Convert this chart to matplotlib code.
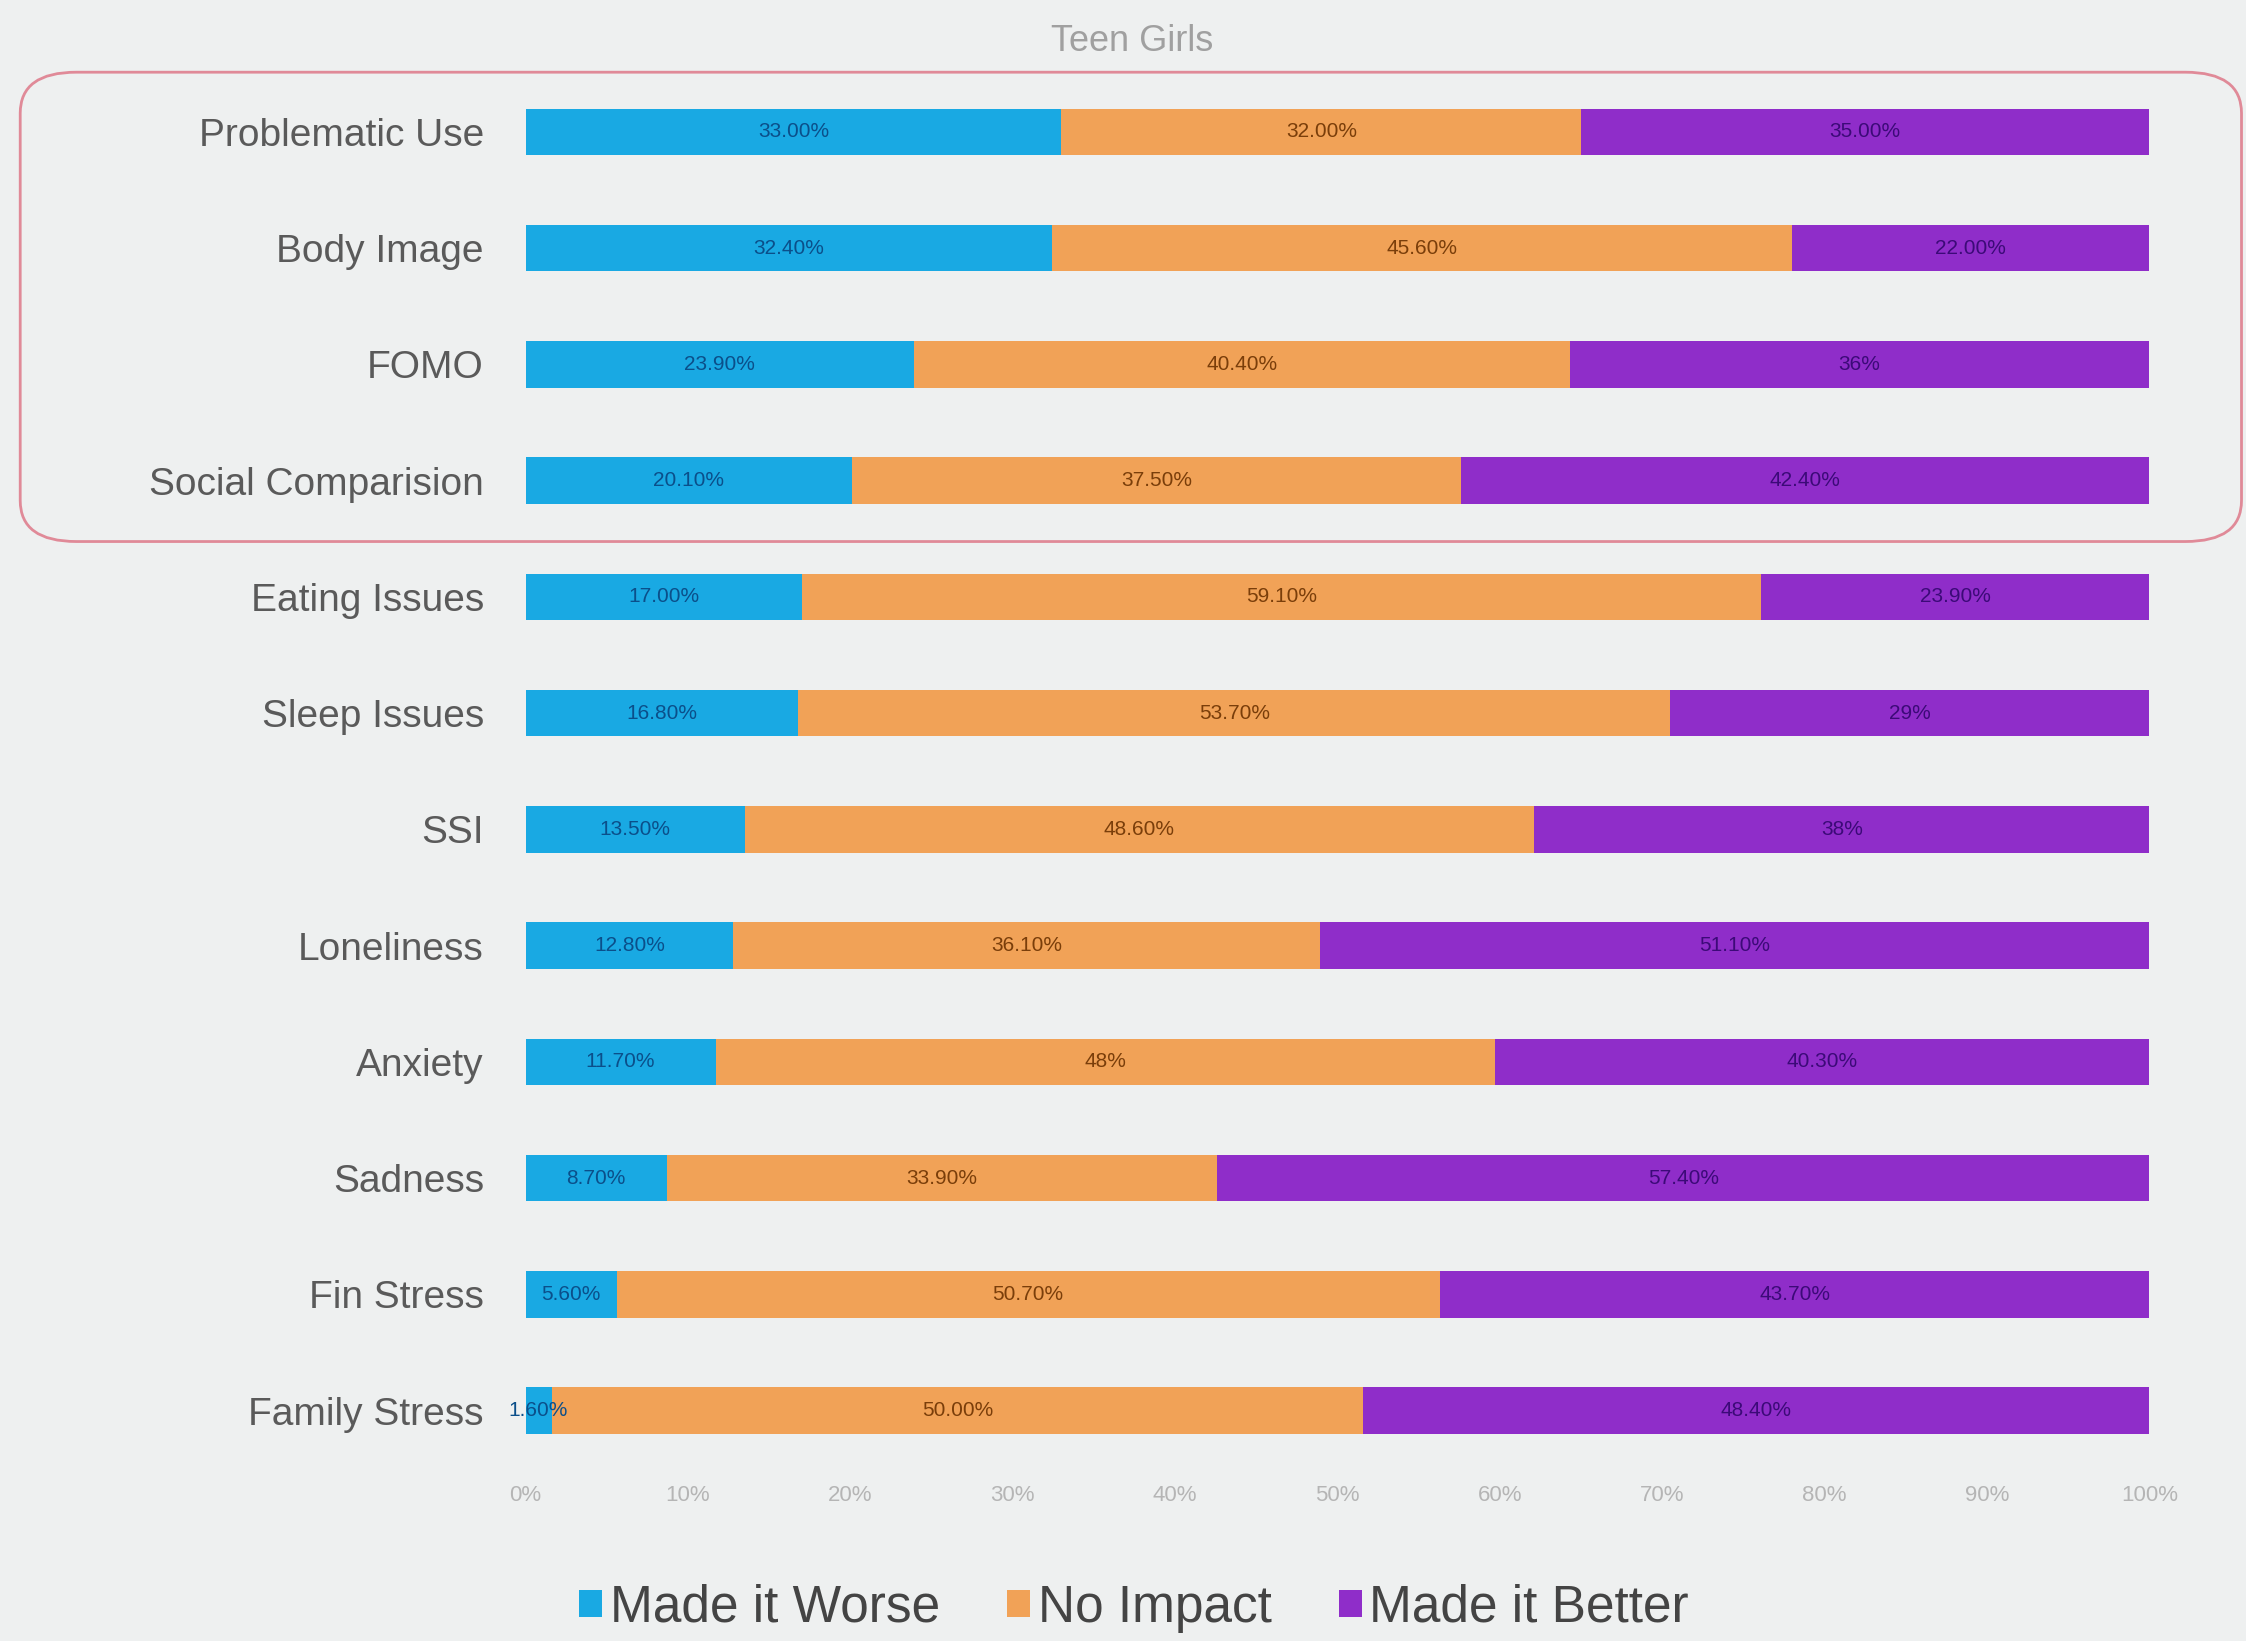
import matplotlib.pyplot as plt
from matplotlib.patches import FancyBboxPatch
import numpy as np

categories = ["Problematic Use", "Body Image", "FOMO", "Social Comparision",
              "Eating Issues", "Sleep Issues", "SSI", "Loneliness",
              "Anxiety", "Sadness", "Fin Stress", "Family Stress"]
worse = [33.0, 32.4, 23.9, 20.1, 17.0, 16.8, 13.5, 12.8, 11.7, 8.7, 5.6, 1.6]
no_impact = [32.0, 45.6, 40.4, 37.5, 59.1, 53.7, 48.6, 36.1, 48.0, 33.9, 50.7, 50.0]
better = [35.0, 22.0, 35.7, 42.4, 23.9, 29.5, 37.9, 51.1, 40.3, 57.4, 43.7, 48.4]
worse_labels = ["33.00%", "32.40%", "23.90%", "20.10%", "17.00%", "16.80%",
                "13.50%", "12.80%", "11.70%", "8.70%", "5.60%", "1.60%"]
no_impact_labels = ["32.00%", "45.60%", "40.40%", "37.50%", "59.10%", "53.70%",
                    "48.60%", "36.10%", "48%", "33.90%", "50.70%", "50.00%"]
better_labels = ["35.00%", "22.00%", "36%", "42.40%", "23.90%", "29%",
                 "38%", "51.10%", "40.30%", "57.40%", "43.70%", "48.40%"]
series = ["Made it Worse", "No Impact", "Made it Better"]
colors = ["#19a9e3", "#f1a257", "#8f2dc9"]
text_colors = ["#0b4f8a", "#7a3e0a", "#3c0a78"]
ticks = list(range(0, 101, 10))

bg = "#eef0f0"
fig = plt.figure(figsize=(22.46, 16.41), dpi=100, facecolor=bg)
ax = fig.add_axes([0.234, 0.105, 0.723, 0.85])
ax.set_facecolor(bg)

y = np.arange(len(categories))
left = np.zeros(len(categories))
for vals, labs, col, tcol, name in zip([worse, no_impact, better],
                                       [worse_labels, no_impact_labels, better_labels],
                                       colors, text_colors, series):
    vals = np.array(vals)
    ax.barh(y, vals, left=left, height=0.4, color=col, label=name)
    for yi, l, v, lab in zip(y, left, vals, labs):
        ax.text(l + v / 2, yi, lab, ha="center", va="center",
                fontsize=15, color=tcol, family="Liberation Sans")
    left = left + vals

ax.set_ylim(len(categories) - 0.5, -0.5)
ax.set_xlim(0, 100)
ax.set_yticks(y)
ax.set_yticklabels(categories, fontsize=28, color="#5a5a5a", family="Liberation Sans")
ax.set_xticks(ticks)
ax.set_xticklabels([f"{t}%" for t in ticks], fontsize=16, color="#b5b5b5",
                   family="Liberation Sans")
ax.tick_params(axis="y", length=0, pad=30)
ax.tick_params(axis="x", length=0, pad=12)
for s in ax.spines.values():
    s.set_visible(False)

fig.text(0.504, 0.975, "Teen Girls", ha="center", va="center", fontsize=26,
         color="#a0a0a0", family="Liberation Sans")

# rounded box around the first four rows
box = FancyBboxPatch((0.009, 0.670), 0.989, 0.286, boxstyle="round,pad=0,rounding_size=0.025",
                     transform=fig.transFigure, fill=False, edgecolor="#e08a98", linewidth=2)
fig.patches.append(box)

leg = fig.legend(loc="center", bbox_to_anchor=(0.505, 0.02), ncol=3, frameon=False,
                 handlelength=0.45, handleheight=0.45, handletextpad=0.15,
                 columnspacing=1.3, prop={"family": "Liberation Sans", "size": 37})
for t in leg.get_texts():
    t.set_color("#444444")

fig.savefig("out.png", dpi=100, facecolor=bg)
